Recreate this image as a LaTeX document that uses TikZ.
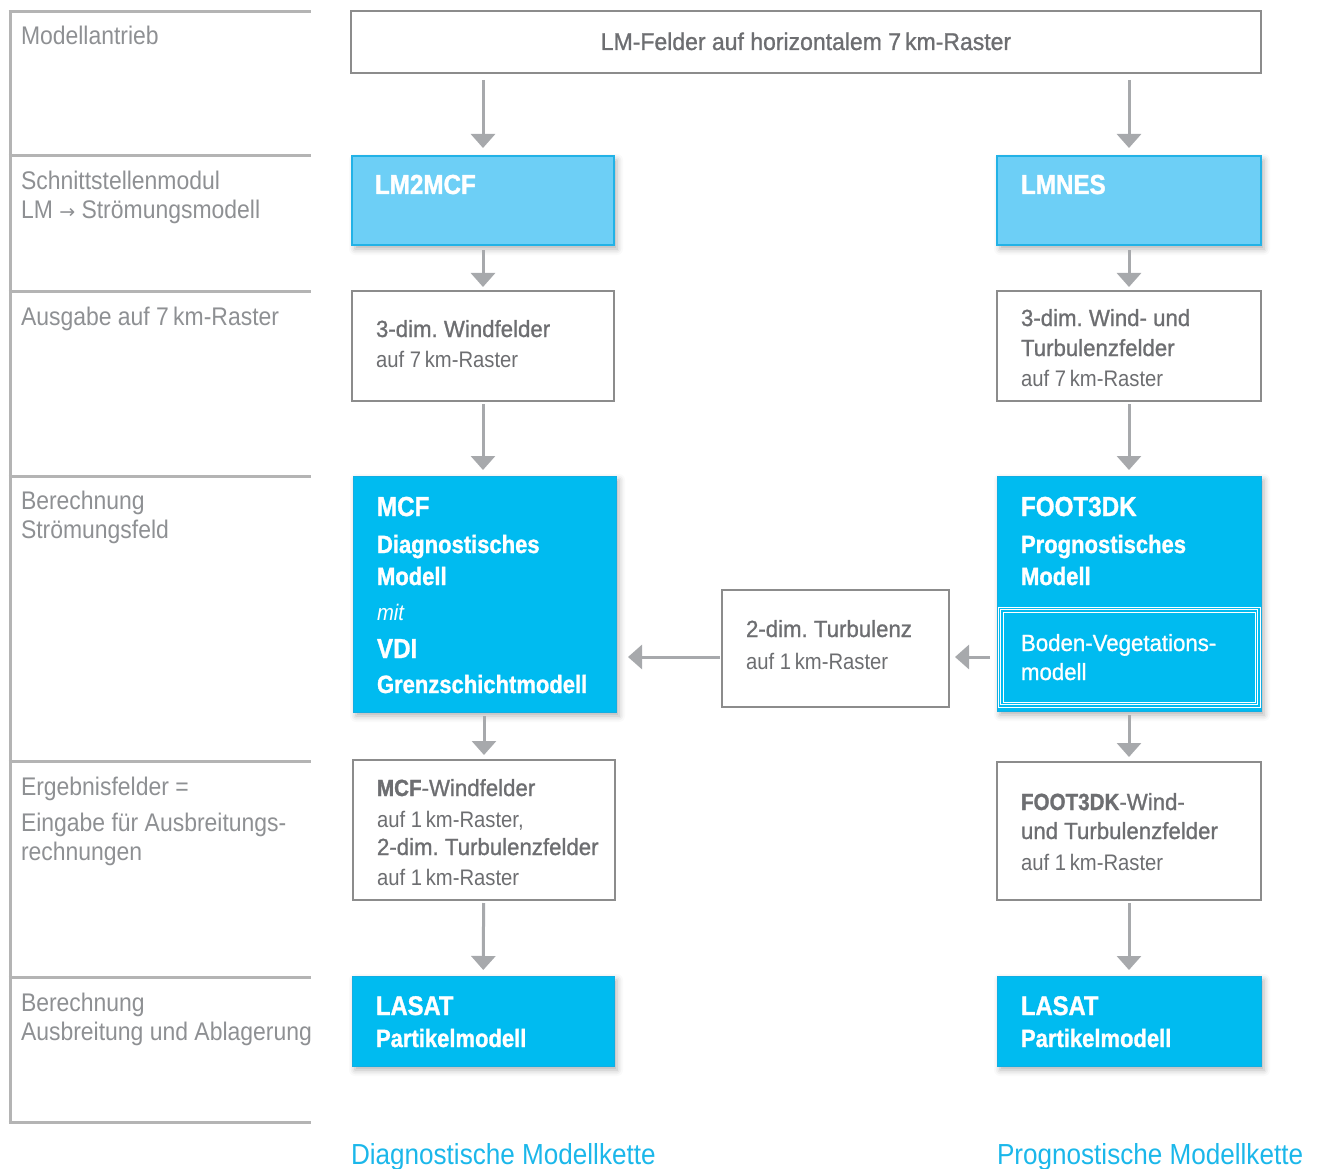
\documentclass[tikz,border=0pt]{standalone}
\usepackage{fontspec}
\setmainfont{Liberation Sans}
\newfontfamily\regf[FakeStretch=0.9]{Liberation Sans}
\newfontfamily\medf[FakeStretch=0.95,FakeBold=1]{Liberation Sans}
\newfontfamily\boldf[FakeStretch=0.88,FakeBold=1.2]{Liberation Sans Bold}
\newfontfamily\arrowf{DejaVu Sans}
\usetikzlibrary{arrows.meta,shadows.blur,calc}
\frenchspacing
\definecolor{cyanbox}{HTML}{00BBF0}
\definecolor{cyanedge}{HTML}{12AEE3}
\definecolor{lightbox}{HTML}{6DCFF6}
\definecolor{lightedge}{HTML}{22B2E6}
\definecolor{txtgray}{HTML}{6D6E71}
\definecolor{lblgray}{HTML}{8E9093}
\definecolor{framegray}{HTML}{B4B4B4}
\definecolor{boxgray}{HTML}{8C8C8C}
\definecolor{arrgray}{HTML}{A7A9AC}
\definecolor{chaincyan}{HTML}{1BB7EA}
\newcommand\mylines[1]{\begin{tabular}[t]{@{}l@{}}#1\end{tabular}}
\tikzset{
  base box/.style={rectangle, inner sep=0pt, outer sep=0pt, anchor=north west},
  wbox/.style={base box, draw=boxgray, line width=1.4pt, fill=white},
  lbox/.style={base box, draw=lightedge, line width=1.2pt, fill=lightbox,
    blur shadow={shadow xshift=3pt, shadow yshift=-4pt, shadow blur radius=6pt, shadow opacity=30}},
  dbox/.style={base box, draw=cyanedge, line width=0.8pt, fill=cyanbox,
    blur shadow={shadow xshift=3pt, shadow yshift=-4pt, shadow blur radius=6pt, shadow opacity=30}},
  txt/.style={anchor=base west, inner sep=0pt, outer sep=0pt},
  boxtxt/.style={txt, text=txtgray, font=\regf\fontsize{22.5}{30}\selectfont},
  bluetxt/.style={txt, text=white, font=\boldf\fontsize{25}{32}\selectfont},
  lbl/.style={txt, text=lblgray, font=\regf\fontsize{25.5}{29}\selectfont},
  arr/.style={draw=arrgray, line width=3pt, -{Triangle[width=24pt,length=14pt]}},
  frame/.style={draw=framegray, line width=3pt},
}
\begin{document}
\frenchspacing
\begin{tikzpicture}[x=1pt,y=-1pt]
\useasboundingbox (0,0) rectangle (1323,1169);

% left frame
\draw[frame] (10,11) -- (10,1123.5);
\foreach \yy in {12,156,291,476,761,977,1122}
  \draw[frame] (8.5,\yy) -- (311,\yy);

% left labels
\node[lbl] (l1) at (21,45) {Modellantrieb};
\node[lbl] (l2) at (21,190) {\mylines{Schnittstellenmodul\\LM {\arrowf\fontsize{19}{29}\selectfont →} Strömungsmodell}};
\node[lbl] (l3) at (21,325) {Ausgabe auf 7\,km-Raster};
\node[lbl] (l4) at (21,509) {\mylines{Berechnung\\Strömungsfeld}};
\node[lbl] (l5) at (21,795) {\mylines{Ergebnisfelder =\\[7pt]Eingabe für Ausbreitungs-\\rechnungen}};
\node[lbl] (l6) at (21,1011) {\mylines{Berechnung\\Ausbreitung und Ablagerung}};

% boxes
\node[wbox, minimum width=910pt, minimum height=62pt] (top) at (351,11) {};
\node[lbox, minimum width=262pt, minimum height=89pt] (lm2mcf) at (352,156) {};
\node[lbox, minimum width=264pt, minimum height=89pt] (lmnes) at (997,156) {};
\node[wbox, minimum width=262pt, minimum height=110pt] (wind3l) at (352,291) {};
\node[wbox, minimum width=264pt, minimum height=110pt] (wind3r) at (997,291) {};
\node[dbox, minimum width=263pt, minimum height=236pt] (mcf) at (353,476) {};
\node[dbox, minimum width=264pt, minimum height=235pt] (foot) at (997,476) {};
\node[base box, minimum width=264pt, minimum height=102pt] (boden) at (997,606) {};
\node[wbox, minimum width=227pt, minimum height=117pt] (mid) at (722,590) {};
\node[wbox, minimum width=262pt, minimum height=140pt] (resl) at (353,760) {};
\node[wbox, minimum width=264pt, minimum height=138pt] (resr) at (997,762) {};
\node[dbox, minimum width=262pt, minimum height=90pt] (lasatl) at (352,976) {};
\node[dbox, minimum width=264pt, minimum height=90pt] (lasatr) at (997,976) {};

% triple white lines of the soil-vegetation part
\foreach \ins in {1,3.5,6}
  \draw[white, line width=0.9pt] ($(boden.north west)+(\ins,\ins)$) rectangle ($(boden.south east)+(-\ins,-\ins)$);

% texts
\node[txt, anchor=base, text=txtgray, font=\medf\fontsize{24.2}{29}\selectfont] (ttop) at (806,50) {LM-Felder auf horizontalem 7\,km-Raster};
\node[bluetxt, font=\boldf\fontsize{27.5}{32}\selectfont] (tlm2mcf) at (375,194) {LM2MCF};
\node[bluetxt, font=\boldf\fontsize{27.5}{32}\selectfont] (tlmnes) at (1021,194) {LMNES};
\node[boxtxt] (twind3l) at (376,337) {\mylines{\medf\fontsize{23.4}{30}\selectfont 3-dim. Windfelder\\auf 7\,km-Raster}};
\node[boxtxt] (twind3r) at (1021,326) {\mylines{\medf\fontsize{23.4}{30}\selectfont 3-dim. Wind- und\\\medf\fontsize{23.4}{30}\selectfont Turbulenzfelder\\auf 7\,km-Raster}};
\node[bluetxt] (tmcf) at (377,516) {\mylines{\fontsize{27.5}{32}\selectfont MCF\\[5pt]Diagnostisches\\Modell\\[3pt]\regf\itshape\fontsize{22.5}{30}\selectfont mit\\[6pt]\fontsize{27.5}{32}\selectfont VDI\\[3pt]Grenzschichtmodell}};
\node[bluetxt] (tfoot) at (1021,516) {\mylines{\fontsize{27.5}{32}\selectfont FOOT3DK\\[5pt]Prognostisches\\Modell}};
\node[txt, text=white, font=\medf\fontsize{23.4}{29}\selectfont] (tboden) at (1021,651) {\mylines{Boden-Vegetations-\\modell}};
\node[boxtxt] (tmid) at (746,637) {\mylines{\medf\fontsize{23.4}{30}\selectfont 2-dim. Turbulenz\\[2pt]auf 1\,km-Raster}};
\node[boxtxt] (tresl) at (377,796) {\mylines{\medf\fontsize{23.4}{30}\selectfont{\boldf MCF}-Windfelder\\[1pt]auf 1\,km-Raster,\\[-2pt]\medf\fontsize{23.4}{30}\selectfont 2-dim. Turbulenzfelder\\auf 1\,km-Raster}};
\node[boxtxt] (tresr) at (1021,810) {\mylines{\medf\fontsize{23.4}{30}\selectfont{\boldf FOOT3DK}-Wind-\\[-1pt]\medf\fontsize{23.4}{30}\selectfont und Turbulenzfelder\\[1pt]auf 1\,km-Raster}};
\node[bluetxt] (tlasatl) at (376,1015) {\mylines{\fontsize{27}{32}\selectfont LASAT\\Partikelmodell}};
\node[bluetxt] (tlasatr) at (1021,1015) {\mylines{\fontsize{27}{32}\selectfont LASAT\\Partikelmodell}};
\node[txt, text=chaincyan, font=\regf\fontsize{29}{34}\selectfont] (chainl) at (351,1164) {Diagnostische Modellkette};
\node[txt, text=chaincyan, font=\regf\fontsize{29}{34}\selectfont] (chainr) at (997,1164) {Prognostische Modellkette};

% connectors
\draw[arr, shorten <=7pt, shorten >=8pt] (top.south -| lm2mcf.north) -- (lm2mcf.north);
\draw[arr, shorten <=7pt, shorten >=8pt] (top.south -| lmnes.north) -- (lmnes.north);
\draw[arr, shorten <=5pt, shorten >=4pt] (lm2mcf) -- (wind3l);
\draw[arr, shorten <=5pt, shorten >=4pt] (lmnes) -- (wind3r);
\draw[arr, shorten <=3pt, shorten >=6pt] (wind3l) -- (mcf.north -| wind3l.south);
\draw[arr, shorten <=3pt, shorten >=6pt] (wind3r) -- (foot);
\draw[arr, shorten <=4pt, shorten >=5pt] (mcf.south -| resl.north) -- (resl);
\draw[arr, shorten <=4pt, shorten >=5pt] (foot) -- (resr);
\draw[arr, shorten <=3pt, shorten >=6pt] (resl) -- (lasatl);
\draw[arr, shorten <=3pt, shorten >=6pt] (resr) -- (lasatr);
\draw[arr, shorten <=7pt, shorten >=6pt] (boden.west) -- (boden.west -| mid.east);
\draw[arr, shorten <=2pt, shorten >=12pt] (mid.west |- boden.west) -- (mcf.east |- boden.west);
\end{tikzpicture}
\end{document}
